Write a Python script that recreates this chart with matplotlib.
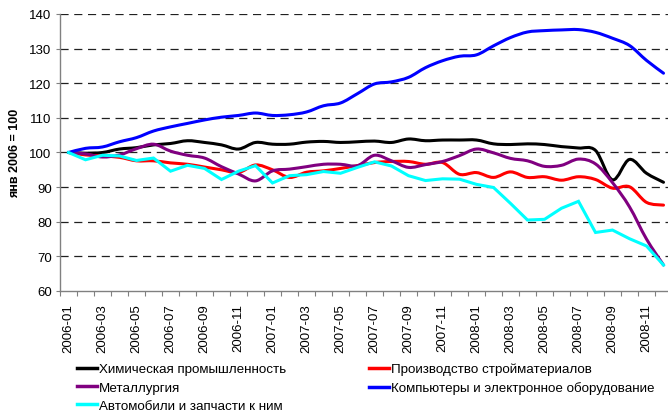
import numpy as np
import matplotlib
matplotlib.use("Agg")
import matplotlib.pyplot as plt
from matplotlib.path import Path
from matplotlib.patches import PathPatch
from matplotlib.lines import Line2D

plt.rcParams["font.family"] = ["Liberation Sans", "DejaVu Sans"]

# monthly index, Jan 2006 = 100
months = [f"{y}-{m:02d}" for y in (2006, 2007, 2008) for m in range(1, 13)]

chem = [100.0, 99.8, 100.0, 101.0, 101.4, 102.2, 102.6, 103.4, 102.9, 102.2,
        101.0, 102.9, 102.4, 102.4, 103.0, 103.2, 102.9, 103.1, 103.3, 102.9,
        103.9, 103.4, 103.6, 103.6, 103.6, 102.5, 102.3, 102.5, 102.3, 101.7,
        101.3, 100.6, 92.1, 98.0, 94.0, 91.4]
build = [100.0, 99.3, 99.0, 98.6, 97.6, 97.6, 97.0, 96.6, 95.8, 95.0,
         94.2, 96.4, 95.0, 92.8, 94.3, 94.7, 95.4, 96.2, 97.1, 97.4,
         97.4, 96.6, 97.1, 93.7, 94.2, 92.8, 94.4, 92.8, 93.0, 92.0,
         93.0, 92.2, 89.7, 90.1, 85.6, 84.8]
metal = [100.0, 99.6, 98.7, 99.3, 101.1, 102.4, 100.4, 99.2, 98.4, 95.9,
         93.8, 91.8, 94.7, 95.2, 95.9, 96.6, 96.6, 96.2, 99.2, 97.6,
         95.7, 96.5, 97.4, 99.1, 101.0, 99.9, 98.3, 97.6, 96.0, 96.3,
         98.1, 96.7, 91.3, 84.3, 75.0, 67.5]
comp = [100.0, 101.2, 101.6, 103.1, 104.3, 106.2, 107.4, 108.4, 109.4, 110.2,
        110.7, 111.4, 110.7, 110.9, 111.7, 113.5, 114.3, 117.0, 119.8, 120.4,
        121.7, 124.5, 126.5, 127.8, 128.2, 130.8, 133.2, 134.8, 135.2, 135.4,
        135.5, 134.7, 133.0, 130.9, 126.6, 122.9]
auto = [100.0, 97.9, 99.2, 99.0, 97.7, 98.4, 94.6, 96.3, 95.4, 92.2,
        94.6, 96.2, 91.2, 93.3, 93.6, 94.5, 94.0, 95.7, 97.3, 96.1,
        93.3, 91.9, 92.4, 92.3, 90.8, 89.9, 85.3, 80.5, 80.7, 83.9,
        85.9, 76.9, 77.6, 75.1, 73.0, 67.5]

series = [
    ("Химическая промышленность", chem, "#000000", True),
    ("Производство стройматериалов", build, "#ff0000", True),
    ("Металлургия", metal, "#800080", True),
    ("Компьютеры и электронное оборудование", comp, "#0000ff", True),
    ("Автомобили и запчасти к ним", auto, "#00ffff", False),
]


def smooth_path(x, y):
    # Excel-style smoothed line: cubic bezier through every data point
    pts = np.column_stack([x, y]).astype(float)
    n = len(pts)
    verts = [pts[0]]
    codes = [Path.MOVETO]
    for i in range(n - 1):
        p0 = pts[max(i - 1, 0)]
        p1 = pts[i]
        p2 = pts[i + 1]
        p3 = pts[min(i + 2, n - 1)]
        verts += [p1 + (p2 - p0) / 6, p2 - (p3 - p1) / 6, p2]
        codes += [Path.CURVE4] * 3
    return Path(verts, codes)


fig = plt.figure(figsize=(6.68, 4.14), dpi=100)
ax = fig.add_axes([60 / 668, 122 / 414, 612 / 668, 277 / 414])

x = np.arange(len(months))
handles = []
for name, vals, color, smooth in series:
    if smooth:
        ax.add_patch(PathPatch(smooth_path(x, vals), fill=False, edgecolor=color,
                               lw=2.2, capstyle="round", joinstyle="round"))
    else:
        ax.plot(x, vals, color=color, lw=2.2, solid_joinstyle="miter")
    handles.append(Line2D([], [], color=color, lw=2.5))

ax.set_xlim(-0.5, len(months) - 0.5)
ax.set_ylim(60, 140)
ax.set_yticks(range(60, 141, 10))
for v in range(70, 141, 10):
    ax.axhline(v, color="#202020", lw=0.9, dashes=(6.5, 4.5), zorder=0)

ax.set_xticks(x[::2])
ax.set_xticklabels(months[::2], rotation=90, fontsize=9.5)
ax.set_xticks(np.arange(len(months) + 1) - 0.5, minor=True)
ax.tick_params(axis="x", which="major", length=0, pad=9)
ax.tick_params(axis="x", which="minor", length=3.5, width=0.8, color="#808080")
ax.tick_params(axis="y", length=3, width=0.8, color="#808080", labelsize=9.5, pad=3)

for s in ("top", "right"):
    ax.spines[s].set_visible(False)
for s in ("left", "bottom"):
    ax.spines[s].set_color("#808080")
    ax.spines[s].set_linewidth(1)

ax.set_ylabel("янв 2006 = 100", fontsize=9, fontweight="bold")
ax.yaxis.set_label_coords(-39 / 612, 0.5)

# legend: Excel fills rows, matplotlib fills columns
order = [0, 2, 4, 1, 3]
fig.legend([handles[i] for i in order], [series[i][0] for i in order],
           ncol=2, loc="upper left", bbox_to_anchor=(77 / 668, 1 - 364 / 414),
           frameon=False, fontsize=9.6, handlelength=1.5, handletextpad=0.15,
           columnspacing=6.2, labelspacing=0.44, borderpad=0, borderaxespad=0)

fig.savefig("out.png", dpi=100)
